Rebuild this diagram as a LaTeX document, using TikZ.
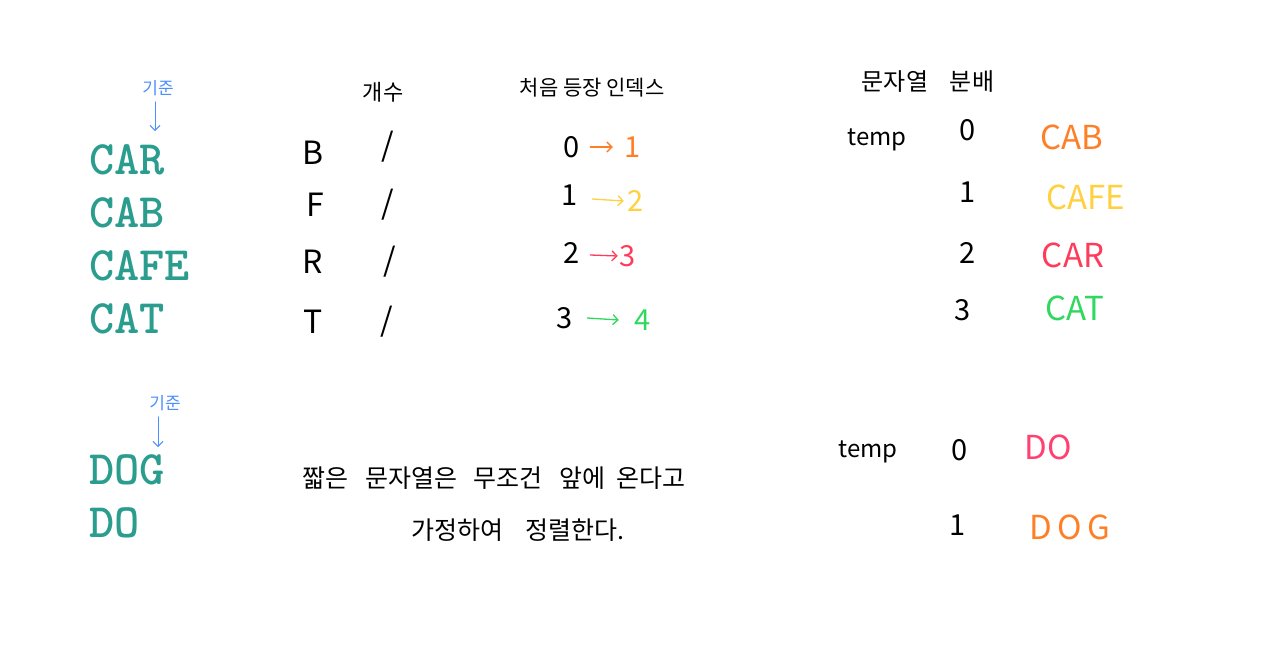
\documentclass[tikz,border=0pt]{standalone}
\usepackage{fontspec}
\usetikzlibrary{arrows.meta}
\setmainfont{Noto Sans CJK KR}
\definecolor{teal}{HTML}{2A9D8F}
\definecolor{hblue}{HTML}{4D8FFF}
\definecolor{horange}{HTML}{FF7F27}
\definecolor{hyellow}{HTML}{FFD040}
\definecolor{hred}{HTML}{FF3B5C}
\definecolor{hgreen}{HTML}{30D860}
\definecolor{hpink}{HTML}{FF4070}
\begin{document}
\begin{tikzpicture}[x=1pt,y=-1pt,
  word/.style={font=\ttfamily\bfseries\fontsize{48}{52}\selectfont, text=teal, anchor=base west, inner sep=0},
  note/.style={font=\fontsize{21}{24}\selectfont, inner sep=0},
  bluenote/.style={note, text=hblue, font=\fontsize{17}{19}\selectfont},
  big/.style={font=\fontsize{32}{36}\selectfont, inner sep=0},
  mid/.style={font=\fontsize{29}{32}\selectfont, inner sep=0},
  word2/.style={font=\fontsize{33}{36}\selectfont, inner sep=0},
  tempst/.style={font=\fontsize{24}{28}\selectfont, inner sep=0},
  arr/.style={-{Straight Barb[length=5pt]}, line width=1.3pt, line cap=round},
  sent/.style={font=\fontsize{25}{28}\selectfont, inner sep=0}
]
\useasboundingbox[fill=white] (0,0) rectangle (1262,648);

% left column
\node[bluenote] (kj1) at (158,88) {기준};
\coordinate (kj1e) at (155,131);
\draw[arr, hblue, line width=1pt] (kj1.south -| kj1e) ++(0,6) -- (kj1e);
\node[word] (w1) at (89,174) {CAR};
\node[word] (w2) at (89,227) {CAB};
\node[word] (w3) at (89,280) {CAFE};
\node[word] (w4) at (89,333) {CAT};

\node[bluenote] (kj2) at (165,403) {기준};
\coordinate (kj2e) at (158,447);
\draw[arr, hblue, line width=1pt] (kj2.south -| kj2e) ++(0,6) -- (kj2e);
\node[word] (w5) at (89,484) {DOG};
\node[word] (w6) at (89,537) {DO};

% count column
\node[note, font=\fontsize{22}{24}\selectfont] (cnt) at (383,92) {개수};
\node[big] (cB) at (313,153) {B};
\node[big] (cF) at (315,205) {F};
\node[big] (cR) at (313,262) {R};
\node[big] (cT) at (313,322) {T};
\node[big] (s1) at (388,147) {/};
\node[big] (s2) at (388,205) {/};
\node[big] (s3) at (390,262) {/};
\node[big] (s4) at (387,322) {/};

% first index column
\node[note] (fi) at (592,88) {처음 등장 인덱스};
\node[mid] (a0) at (572,147) {0};
\node[mid, text=horange] (b0) at (633,147) {1};
\draw[arr, horange] (a0.east) ++(10,0) -- ([xshift=-12pt]b0.west);
\node[mid] (a1) at (570,195) {1};
\node[mid, text=hyellow] (b1) at (636,201) {2};
\draw[arr, hyellow] (a1.east) ++(14,4) -- ([xshift=-4pt]b1.west);
\node[mid] (a2) at (572,253) {2};
\node[mid, text=hred] (b2) at (628,256) {3};
\draw[arr, hred] (a2.east) ++(10,2) -- ([xshift=-2pt]b2.west);
\node[mid] (a3) at (565,318) {3};
\node[mid, text=hgreen] (b3) at (643,320) {4};
\draw[arr, hgreen] (a3.east) ++(14,0) -- ([xshift=-16pt]b3.west);

% temp table
\node[note, font=\fontsize{24}{26}\selectfont] (h1) at (895,82) {문자열};
\node[note, font=\fontsize{24}{26}\selectfont] (h2) at (972,82) {분배};
\node[tempst] (t1) at (877,140) {temp};
\node[mid] (d0) at (968,130) {0};
\node[mid] (d1) at (968,192) {1};
\node[mid] (d2) at (968,253) {2};
\node[mid] (d3) at (963,310) {3};
\node[word2, text=horange] (e0) at (1072,137) {CAB};
\node[word2, text=hyellow] (e1) at (1086,197) {CAFE};
\node[word2, text=hred] (e2) at (1073,255) {CAR};
\node[word2, text=hgreen] (e3) at (1075,308) {CAT};

\node[tempst] (t2) at (868,452) {temp};
\node[mid] (f0) at (960,450) {0};
\node[mid] (f1) at (958,525) {1};
\node[word2, text=hpink] (g0) at (1048,447) {DO};
\node[word2, text=horange] (g1) at (1070,527) {D\,O\,G};

% sentence
\node[sent] (l1) at (494,478) {짧은\ \ \ 문자열은\ \ \ 무조건\ \ \ 앞에\ \ 온다고};
\node[sent] (l2) at (518,530) {가정하여\ \ \ \ 정렬한다.};
\end{tikzpicture}
\end{document}
